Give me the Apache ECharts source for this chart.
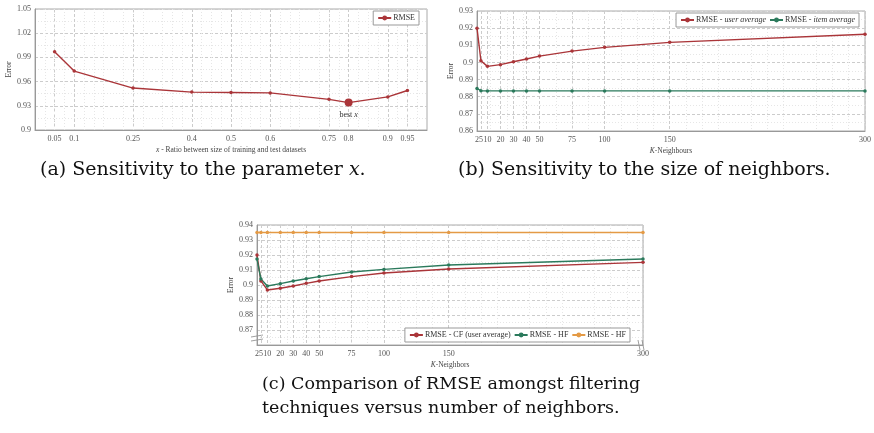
<!DOCTYPE html>
<html>
<head>
<meta charset="utf-8">
<script src="https://cdn.jsdelivr.net/npm/echarts@6/dist/echarts.min.js"></script>
<style>
  html, body { margin: 0; padding: 0; background: #fff; }
  #chart { width: 874px; height: 433px; }
</style>
</head>
<body>
<div id="chart"></div>
<script>
// (a) sensitivity to x
const ratioX = [0.05, 0.1, 0.25, 0.4, 0.5, 0.6, 0.75, 0.8, 0.9, 0.95];
const rmseRatio = [0.997, 0.973, 0.952, 0.947, 0.9465, 0.946, 0.938, 0.934, 0.941, 0.949];
const bestX = 0.8;
const errTicksA = [0.9, 0.93, 0.96, 0.99, 1.02, 1.05];

// (b) size of neighbours
const kNeighbours = [2, 5, 10, 20, 30, 40, 50, 75, 100, 150, 300];
const rmseUserAvg = [0.920, 0.901, 0.8977, 0.8987, 0.9004, 0.902, 0.9037, 0.9066, 0.9088, 0.9117, 0.9164];
const rmseItemAvg = [0.8848, 0.8835, 0.8834, 0.8834, 0.8834, 0.8834, 0.8834, 0.8834, 0.8834, 0.8834, 0.8834];
const errTicksB = [0.86, 0.87, 0.88, 0.89, 0.9, 0.91, 0.92, 0.93];

// (c) comparison
const rmseCF = [0.920, 0.9027, 0.8967, 0.8978, 0.8993, 0.9011, 0.9027, 0.9056, 0.908, 0.9107, 0.9151];
const rmseHF = [0.9173, 0.904, 0.8993, 0.9009, 0.9027, 0.9042, 0.9056, 0.9087, 0.9104, 0.9133, 0.9173];
const rmseHF2 = [0.935, 0.935, 0.935, 0.935, 0.935, 0.935, 0.935, 0.935, 0.935, 0.935, 0.935];
const errTicksC = [0.87, 0.88, 0.89, 0.9, 0.91, 0.92, 0.93, 0.94];

const serif = 'Liberation Serif';
const capFont = 'DejaVu Serif';
const red = '#aa3539', green = '#2b7a5c', orange = '#e49a45';
const legendNames = {
  a: 'RMSE', bu: 'RMSE - user average', bi: 'RMSE - item average',
  cf: 'RMSE - CF (user average)', hf: 'RMSE - HF', hf2: 'RMSE - HF'
};

function zip(xs, ys) { return xs.map((x, i) => [x, ys[i]]); }

function xAx(idx, min, max, ticks, name) {
  return {
    type: 'value', gridIndex: idx, min: min, max: max,
    name: name, nameLocation: 'middle', nameGap: 16,
    nameTextStyle: { fontFamily: serif, fontSize: 7.5, color: '#444',
      rich: { i: { fontFamily: serif, fontSize: 7.5, fontStyle: 'italic', color: '#444' } } },
    axisLine: { onZero: false, lineStyle: { color: '#999' } },
    axisTick: { show: false, customValues: ticks },
    axisLabel: { customValues: ticks, fontFamily: serif, fontSize: 8, color: '#555', margin: 5 },
    splitLine: { show: true, lineStyle: { color: '#ccc', type: [3, 2] } },
    minorTick: { show: false, splitNumber: 4 },
    minorSplitLine: { show: true, lineStyle: { color: '#e6e6e6', type: [1, 2] } }
  };
}
function yAx(idx, min, max, interval, ticks) {
  return {
    type: 'value', gridIndex: idx, min: min, max: max, interval: interval,
    name: 'Error', nameLocation: 'middle', nameGap: 20,
    nameTextStyle: { fontFamily: serif, fontSize: 7.5, color: '#444' },
    axisLine: { show: true, lineStyle: { color: '#999' } },
    axisTick: { show: false },
    axisLabel: { customValues: ticks, fontFamily: serif, fontSize: 8, color: '#555', margin: 4 },
    splitLine: { show: true, lineStyle: { color: '#ccc', type: [3, 2] } },
    minorTick: { show: false, splitNumber: 2 },
    minorSplitLine: { show: true, lineStyle: { color: '#e6e6e6', type: [1, 2] } }
  };
}
function lineS(name, idx, xs, ys, color) {
  return {
    name: name, type: 'line', xAxisIndex: idx, yAxisIndex: idx,
    data: zip(xs, ys), symbol: 'circle', symbolSize: 3.5, showSymbol: true,
    color: color, lineStyle: { width: 1.4, color: color }, itemStyle: { color: color },
    animation: false
  };
}
function legendBox(data, right, top, fmt) {
  return {
    data: data, right: right, top: top, orient: 'horizontal',
    itemWidth: 13, itemHeight: 6, itemGap: 3, padding: [3, 4],
    borderColor: '#999', borderWidth: 1, backgroundColor: '#fff',
    textStyle: { fontFamily: serif, fontSize: 8, color: '#333', padding: [0, 0, 0, -3],
      rich: { i: { fontFamily: serif, fontSize: 8, fontStyle: 'italic', color: '#333' } } },
    formatter: fmt || (n => legendNames[n])
  };
}

const aData = zip(ratioX, rmseRatio).map(p => p[0] === bestX
  ? { value: p, symbolSize: 8, label: { show: true, position: 'bottom', distance: 4,
      formatter: '{n|best }{i|x}',
      rich: { n: { fontFamily: serif, fontSize: 8, color: '#333' },
              i: { fontFamily: serif, fontSize: 8, fontStyle: 'italic', color: '#333' } } } }
  : { value: p });

const seriesA = lineS('a', 0, ratioX, rmseRatio, red);
seriesA.data = aData;

// little "broken axis" marks on plot (c)
function breakMark(x, y, vertical) {
  const g = [];
  [-2, 2].forEach(d => {
    g.push({ type: 'line', silent: true,
      shape: vertical ? { x1: x + d - 1, y1: y - 5, x2: x + d + 1, y2: y + 5 }
                      : { x1: x - 6, y1: y + d + 1, x2: x + 6, y2: y + d - 1 },
      style: { stroke: '#888', lineWidth: 0.8 } });
  });
  return g;
}

const option = {
  backgroundColor: '#fff',
  grid: [
    { left: 35, top: 9, right: 447, bottom: 303, show: true, borderColor: '#aaa', borderWidth: 1 },
    { left: 477, top: 11, right: 7, bottom: 302, show: true, borderColor: '#aaa', borderWidth: 1 },
    { left: 257, top: 225, right: 231, bottom: 88, show: true, borderColor: '#aaa', borderWidth: 1 }
  ],
  xAxis: [
    Object.assign(xAx(0, 0, 1, ratioX, '{i|x} - Ratio between size of training and test datasets'),
      { interval: 0.1 }),
    xAx(1, 2, 300, kNeighbours, '{i|K}-Neighbours'),
    xAx(2, 2, 300, kNeighbours, '{i|K}-Neighbors')
  ],
  yAxis: [
    yAx(0, 0.9, 1.05, 0.03, errTicksA),
    yAx(1, 0.86, 0.93, 0.01, errTicksB),
    yAx(2, 0.86, 0.94, 0.01, errTicksC)
  ],
  legend: [
    legendBox(['a'], 455, 11),
    legendBox(['bu', 'bi'], 15, 13, n => n === 'bu' ? 'RMSE - {i|user average}' : 'RMSE - {i|item average}'),
    legendBox(['cf', 'hf', 'hf2'], 244, 328)
  ],
  series: [
    seriesA,
    lineS('bu', 1, kNeighbours, rmseUserAvg, red),
    lineS('bi', 1, kNeighbours, rmseItemAvg, green),
    lineS('cf', 2, kNeighbours, rmseCF, red),
    lineS('hf', 2, kNeighbours, rmseHF, green),
    lineS('hf2', 2, kNeighbours, rmseHF2, orange)
  ],
  graphic: [
    { type: 'text', left: 40, top: 161, style: { text: '(a) Sensitivity to the parameter {i|x}.',
      font: '19px "' + capFont + '"', fill: '#111',
      rich: { i: { fontStyle: 'italic', fontSize: 19, fontFamily: capFont } } } },
    { type: 'text', left: 458, top: 161, style: { text: '(b) Sensitivity to the size of neighbors.',
      font: '19px "' + capFont + '"', fill: '#111' } },
    { type: 'text', left: 262, top: 372, style: { text: '(c) Comparison of RMSE amongst filtering\ntechniques versus number of neighbors.',
      font: '17.5px "' + capFont + '"', lineHeight: 24, fill: '#111' } },
    { type: 'group', silent: true, children: breakMark(257, 338, false).concat(breakMark(641, 345, true)) }
  ]
};

const chart = echarts.init(document.getElementById('chart'), null, { renderer: 'canvas' });
chart.setOption(option);
window.onresize = chart.resize;
</script>
</body>
</html>
